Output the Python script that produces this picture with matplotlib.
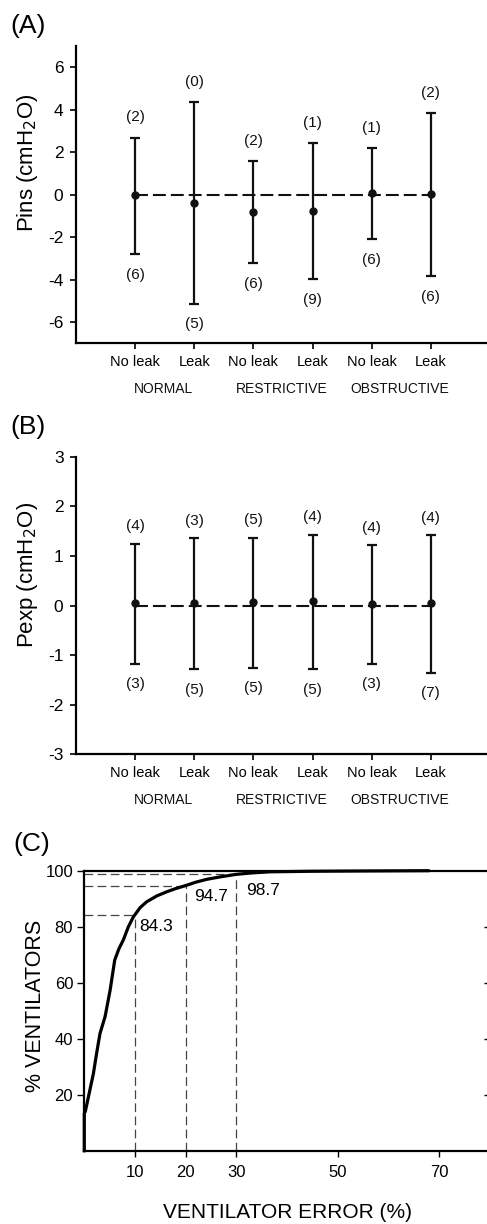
import matplotlib
matplotlib.use("Agg")
from matplotlib import pyplot as plt
import numpy as np

plt.rcParams['font.family'] = ['Liberation Sans', 'DejaVu Sans']

# panel A / B categories
conditions = ['No leak', 'Leak', 'No leak', 'Leak', 'No leak', 'Leak']
groups = ['NORMAL', 'RESTRICTIVE', 'OBSTRUCTIVE']

# panel A: Pins (cmH2O)
pins_mean = [-0.03, -0.38, -0.82, -0.78, 0.08, 0.05]
pins_upper = [2.69, 4.35, 1.58, 2.42, 2.20, 3.85]
pins_lower = [-2.80, -5.13, -3.24, -3.99, -2.11, -3.82]
pins_n_above = ['(2)', '(0)', '(2)', '(1)', '(1)', '(2)']
pins_n_below = ['(6)', '(5)', '(6)', '(9)', '(6)', '(6)']

# panel B: Pexp (cmH2O)
pexp_mean = [0.05, 0.05, 0.07, 0.09, 0.03, 0.05]
pexp_upper = [1.25, 1.36, 1.37, 1.43, 1.21, 1.42]
pexp_lower = [-1.17, -1.29, -1.25, -1.29, -1.17, -1.36]
pexp_n_above = ['(4)', '(3)', '(5)', '(4)', '(4)', '(4)']
pexp_n_below = ['(3)', '(5)', '(5)', '(5)', '(3)', '(7)']

# panel C: cumulative % of ventilators vs ventilator error (%)
err_x = [0, 0, 0.2, 1.0, 1.8, 2.4, 3.1, 4.1, 5.1, 5.4, 6.0, 6.8, 7.7, 8.7,
         9.7, 10.0, 11.0, 12.3, 14.3, 16.3, 18.0, 20.0, 22.0, 24.1, 26.8,
         30.0, 33.0, 36.6, 45.0, 55.0, 67.8]
vent_y = [0, 13.4, 14.0, 20.8, 27.6, 34.5, 41.9, 47.9, 57.4, 61.0, 68.1,
          72.0, 75.3, 80.0, 83.6, 84.3, 86.8, 88.9, 91.0, 92.5, 93.6, 94.7,
          95.9, 96.9, 97.8, 98.7, 99.2, 99.6, 99.8, 99.9, 100.0]
ref_err = [10, 20, 30]
ref_pct = [84.3, 94.7, 98.7]

W, H = 487, 1224
fig = plt.figure(figsize=(W / 100, H / 100), dpi=100)


def px_box(left, right, top, bottom):
    return [left / W, 1 - bottom / H, (right - left) / W, (bottom - top) / H]


def error_panel(ax, mean, upper, lower, n_above, n_below, ylim, yticks, ylabel,
                off_up, off_down, ylab_y):
    pos = np.arange(1, len(mean) + 1)
    mean = np.array(mean)
    err = [mean - np.array(lower), np.array(upper) - mean]
    ax.plot([pos[0], pos[-1]], [0, 0], color='#111111', lw=1.5,
            dashes=(6.2, 2.4), zorder=1)
    ax.errorbar(pos, mean, yerr=err, fmt='o', color='#111111', ms=5,
                elinewidth=1.6, capsize=3.4, capthick=1.6, zorder=3)
    for i in range(len(pos)):
        ax.annotate(n_above[i], (pos[i], upper[i]), xytext=(0, off_up),
                    textcoords='offset points', ha='center', va='center',
                    fontsize=11, color='#111111')
        ax.annotate(n_below[i], (pos[i], lower[i]), xytext=(0, -off_down),
                    textcoords='offset points', ha='center', va='center',
                    fontsize=11, color='#111111')
    for g in range(len(groups)):
        ax.annotate(groups[g], (pos[2 * g] + 0.48, 0),
                    xycoords=('data', 'axes fraction'), xytext=(0, -33),
                    textcoords='offset points', ha='center', va='center',
                    fontsize=10, color='#111111')
    ax.set_xlim(0, 7)
    ax.set_ylim(*ylim)
    ax.set_xticks(pos)
    ax.set_xticklabels(conditions, fontsize=10.5)
    ax.set_yticks(yticks)
    ax.set_yticklabels([str(t) for t in yticks], fontsize=12.5)
    ax.tick_params(axis='x', direction='out', length=4, width=1.2, pad=4.5)
    ax.tick_params(axis='y', direction='out', length=4, width=1.2, pad=5)
    for s in ['top', 'right']:
        ax.spines[s].set_visible(False)
    for s in ['left', 'bottom']:
        ax.spines[s].set_linewidth(1.6)
    ax.set_ylabel(ylabel, fontsize=16)
    ax.yaxis.set_label_coords(-0.087, ylab_y)


axA = fig.add_axes(px_box(76, 490, 46, 343.3))
error_panel(axA, pins_mean, pins_upper, pins_lower, pins_n_above, pins_n_below,
            (-7, 7), [-6, -4, -2, 0, 2, 4, 6], 'Pins (cmH$_2$O)', 14.5, 15, 0.606)

axB = fig.add_axes(px_box(76, 490, 456.7, 754.3))
error_panel(axB, pexp_mean, pexp_upper, pexp_lower, pexp_n_above, pexp_n_below,
            (-3, 3), [-3, -2, -1, 0, 1, 2, 3], 'Pexp (cmH$_2$O)', 12.5, 14.5, 0.602)

# panel C
axC = fig.add_axes(px_box(84.3, 490, 870.7, 1150.7))
for e, p in zip(ref_err, ref_pct):
    axC.plot([0, e], [p, p], color='#444444', lw=0.9, dashes=(7, 3.5))
    axC.plot([e, e], [0, p], color='#444444', lw=0.9, dashes=(7, 3.5))
axC.plot(err_x, vent_y, color='black', lw=2.3, clip_on=False, zorder=4,
         solid_joinstyle='round')
axC.text(10.8, 80, '84.3', fontsize=12.5, va='center', ha='left')
axC.text(21.6, 90.7, '94.7', fontsize=12.5, va='center', ha='left')
axC.text(31.9, 92.9, '98.7', fontsize=12.5, va='center', ha='left')
axC.set_xlim(0, 80)
axC.set_ylim(0, 100)
axC.set_xticks([10, 20, 30, 50, 70])
axC.set_xticklabels(['10', '20', '30', '50', '70'], fontsize=12)
axC.set_yticks([20, 40, 60, 80, 100])
axC.set_yticklabels(['20', '40', '60', '80', '100'], fontsize=12)
axC.tick_params(axis='x', direction='out', length=4, width=1, pad=6)
axC.tick_params(axis='y', direction='out', length=5, width=1, pad=3)
for s in axC.spines.values():
    s.set_linewidth(1.6)
right = axC.secondary_yaxis('right')
right.set_yticks([20, 40, 60, 80])
right.tick_params(direction='in', length=4, width=1, labelright=False)
axC.set_ylabel('% VENTILATORS', fontsize=15.5)
axC.yaxis.set_label_coords(-0.095, 0.517)
axC.set_xlabel('VENTILATOR ERROR (%)', fontsize=15)
axC.xaxis.set_label_coords(0.5, -0.185)

fig.text(10 / W, 1 - 26.5 / H, '(A)', fontsize=19, ha='left', va='center')
fig.text(10 / W, 1 - 426.7 / H, '(B)', fontsize=19, ha='left', va='center')
fig.text(13 / W, 1 - 844 / H, '(C)', fontsize=19, ha='left', va='center')

fig.savefig('out.png', dpi=100)
